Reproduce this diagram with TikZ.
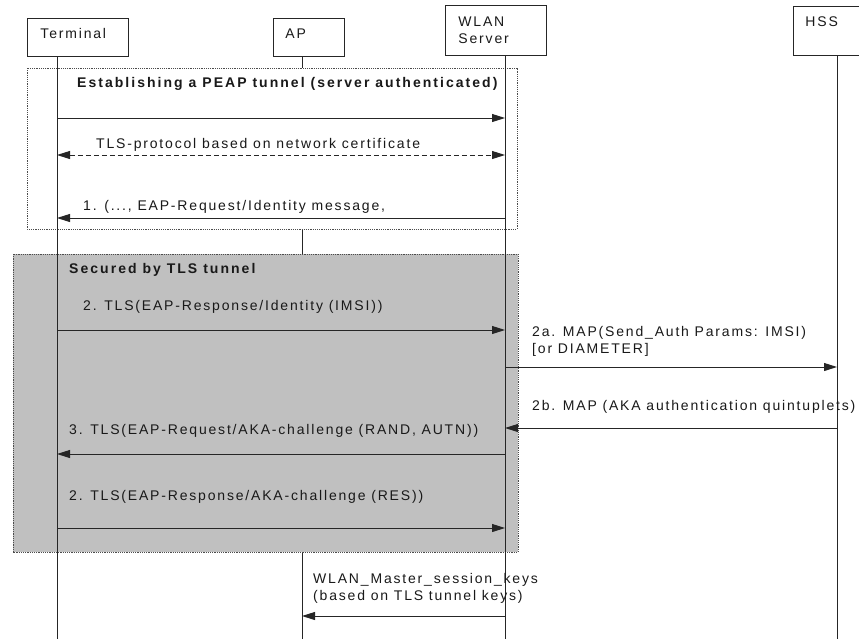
\documentclass[tikz,border=0pt]{standalone}
\usepackage{fontspec}
\setmainfont{Liberation Sans}[LetterSpace=13, BoldFeatures={LetterSpace=14.5}]
\usetikzlibrary{arrows.meta}

\definecolor{tlsgray}{HTML}{C0C0C0}
\newcommand{\msgfont}{\fontsize{14}{17}\selectfont}

\begin{document}
\begin{tikzpicture}[
    x=1pt, y=-1pt,
    actor/.style={draw=black!85, line width=0.9pt, text=black!90, align=left, anchor=north west, inner ysep=0pt, font=\msgfont},
    msg/.style={-{Triangle[length=13pt,width=8pt]}, black!85, line width=0.9pt},
    life/.style={black!85, line width=0.9pt},
    lbl/.style={anchor=west, inner sep=0pt, text=black!90, align=left, font=\msgfont},
    phase/.style={draw=black!70, line width=0.8pt, dash pattern=on 1.2pt off 1pt}
]
    \useasboundingbox (0,0) rectangle (859,638);

    % Actors (top row)
    \node[actor, text width=75pt, inner xsep=13pt, text height=20.5pt, text depth=17.5pt] (term) at (27,18) {Terminal};
    \node[actor, text width=47pt, inner xsep=12pt, text height=20.5pt, text depth=17.5pt] (ap) at (273,18) {AP};
    \node[actor, text width=75pt, inner xsep=13pt, minimum height=50pt] (wlan) at (445,5) {WLAN\\Server};
    \node[actor, text width=50pt, inner xsep=12pt, text height=20.5pt, text depth=28.5pt] (hss) at (793,6) {HSS};

    % Lifeline tops and bottom
    \coordinate (lt) at ([xshift=30pt]term.south west);
    \coordinate (la) at ([xshift=29pt]ap.south west);
    \coordinate (lw) at ([xshift=60pt]wlan.south west);
    \coordinate (lh) at ([xshift=44pt]hss.south west);
    \coordinate (bot) at (0,640);

    % AP lifeline sits under the phase boxes
    \draw[life] (la) -- (la |- bot);

    % Phase boxes
    \draw[phase, fill=white] (27,68) rectangle (517,229);
    \draw[phase, fill=tlsgray] (13,254) rectangle (518,552);

    % Other lifelines
    \draw[life] (lt) -- (lt |- bot);
    \draw[life] (lw) -- (lw |- bot);
    \draw[life] (lh) -- (lh |- bot);

    % PEAP tunnel set-up
    \node[lbl, font=\msgfont\bfseries] (peap) at (77,84) {Establishing a PEAP tunnel (server authenticated)};
    \draw[msg] (lt |- 0,118) -- (lw |- 0,118);
    \node[lbl] (tlsproto) at (96,145) {TLS-protocol based on network certificate};
    \draw[msg, {Triangle[length=13pt,width=8pt]}-{Triangle[length=13pt,width=8pt]}, dash pattern=on 5pt off 3pt] (lt |- 0,155) -- (lw |- 0,155);
    \node[lbl] (m1) at (83,207) {1. (..., EAP-Request/Identity message,};
    \draw[msg] (lw |- 0,218) -- (lt |- 0,218);

    % Inside the TLS tunnel
    \node[lbl, font=\msgfont\bfseries] (sec) at (69,270) {Secured by TLS tunnel};
    \node[lbl] (m2) at (83,307) {2. TLS(EAP-Response/Identity (IMSI))};
    \draw[msg] (lt |- 0,330) -- (lw |- 0,330);
    \node[lbl] (m2a) at (532,341) {2a. MAP(Send\_Auth Params: IMSI)\\{[or DIAMETER]}};
    \draw[msg] (lw |- 0,367) -- (lh |- 0,367);
    \node[lbl] (m2b) at (532,407) {2b. MAP (AKA authentication quintuplets)};
    \draw[msg] (lh |- 0,428) -- (lw |- 0,428);
    \node[lbl] (m3) at (69,431) {3. TLS(EAP-Request/AKA-challenge (RAND, AUTN))};
    \draw[msg] (lw |- 0,454) -- (lt |- 0,454);
    \node[lbl] (m4) at (69,497) {2. TLS(EAP-Response/AKA-challenge (RES))};
    \draw[msg] (lt |- 0,528) -- (lw |- 0,528);

    % Session keys to the AP
    \node[lbl] (keys) at (313,588) {WLAN\_Master\_session\_keys\\(based on TLS tunnel keys)};
    \draw[msg] (lw |- 0,616) -- (la |- 0,616);
\end{tikzpicture}
\end{document}
